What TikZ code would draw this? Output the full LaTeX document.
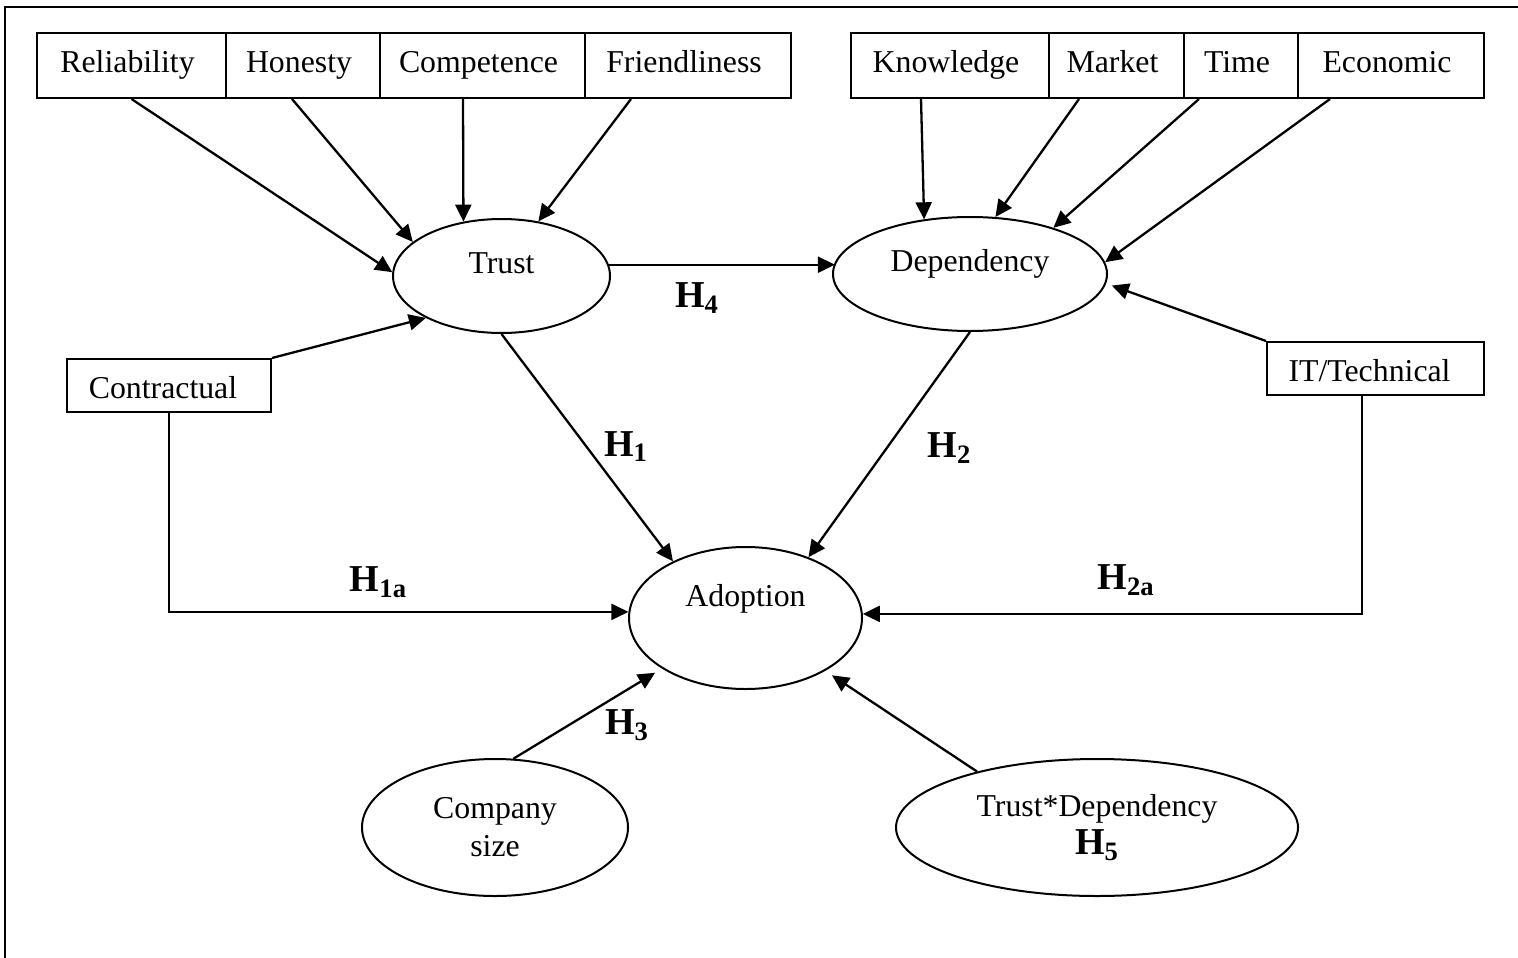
\documentclass[tikz,border=0pt]{standalone}
\usepackage{fontspec}
\setmainfont{Liberation Serif}
\usetikzlibrary{arrows.meta,calc,shapes.geometric}
\begin{document}
\begin{tikzpicture}[x=0.5pt,y=-0.5pt,
  line width=1pt,
  txtfont/.style={font=\fontsize{15.9}{19}\selectfont},
  box/.style={draw, rectangle, inner sep=0pt, minimum height=32.5pt,
    text height=11pt, text depth=3.5pt, txtfont, execute at end node={\hspace*{4pt}}},
  sbox/.style={draw, rectangle, inner sep=0pt, minimum height=26.5pt,
    text height=13.5pt, text depth=0.5pt, txtfont, execute at end node={\hspace*{6pt}}},
  ell/.style={draw, ellipse, inner sep=0pt, align=center, txtfont},
  arr/.style={-{Triangle[length=8.5pt,width=8pt]}, line width=1.15pt},
  hyp/.style={inner sep=0pt, font=\fontsize{19}{22}\selectfont\bfseries}
]
\useasboundingbox (0,0) rectangle (1518,957);
% outer frame (cut off at right and bottom)
\draw (5,7) rectangle (1535,980);

% top boxes
\node[box, minimum width=94.5pt]  (rel) at (131.5,65.5) {Reliability};
\node[box, minimum width=77pt]    (hon) at (303,65.5)   {Honesty};
\node[box, minimum width=102.5pt] (cmp) at (482.5,65.5) {Competence};
\node[box, minimum width=103pt]   (fri) at (688,65.5)   {Friendliness};
\node[box, minimum width=99pt]    (kno) at (950,65.5)   {Knowledge};
\node[box, minimum width=67.5pt]  (mar) at (1116.5,65.5){Market};
\node[box, minimum width=57pt]    (tim) at (1241,65.5)  {Time};
\node[box, minimum width=93pt]    (eco) at (1391,65.5)  {Economic};

% side boxes
\node[sbox, minimum width=102pt]   (con) at (169,385.5)   {Contractual};
\node[sbox, minimum width=108.5pt] (it)  at (1375.5,368.5){IT/Technical};

% ellipses
\node[ell, minimum width=108.5pt, minimum height=57pt, text height=11pt, text depth=13.1pt]
  (trust) at (501.5,276) {Trust};
\node[ell, minimum width=137pt, minimum height=57pt, text height=11pt, text depth=13.1pt]
  (dep) at (970,274) {Dependency};
\node[ell, minimum width=116.5pt, minimum height=71pt, text height=11pt, text depth=23pt]
  (adop) at (745.5,618) {Adoption};
\node[ell, minimum width=133pt, minimum height=68.5pt]
  (csz) at (495,827.5) {Company\\size};
\node[ell, minimum width=201pt, minimum height=68.5pt]
  (td) at (1097,827.5) {Trust*Dependency\\{\fontsize{19}{19}\selectfont\bfseries H\textsubscript{5}}};

% arrows into Trust
\draw[arr] (rel.south) -- (trust.178.4);
\draw[arr] ($(hon.south)+(-11,0)$) -- (trust.159.5);
\draw[arr] ($(cmp.south)+(-19.5,0)$) -- (trust.125.8);
\draw[arr] ($(fri.south)+(-57,0)$) -- (trust.56.6);
\draw[arr] (con.north east) -- (trust.209.7);

% arrows into Dependency
\draw[arr] ($(kno.south)+(-29,0)$) -- (dep.130.6);
\draw[arr] ($(mar.south)+(-37.5,0)$) -- (dep.66.8);
\draw[arr] ($(tim.south)+(-42,0)$) -- (dep.29.1);
\draw[arr] ($(eco.south)+(-61,0)$) -- (dep.5.1);
\draw[arr, shorten >=3pt] (it.north west) -- (dep.-4.6);

% Trust -> Dependency
\draw[arr] (trust.6.45) -- (trust.6.45 -| dep.175.8);

% into Adoption
\draw[arr] (trust.south) -- (adop.142.5);
\draw[arr] (dep.south) -- (adop.44.5);
\draw[arr] (con.south) |- (adop.177.5);
\draw[arr] ($(it.south)+(-13.5,0)$) |- (adop.2.5);
\draw[arr, shorten >=4pt] (csz.75) -- (adop);
\draw[arr, shorten >=4pt] (td.155.9) -- (adop);

% hypothesis labels
\node[hyp] (h4)  at (697,298)    {H\textsubscript{4}};
\node[hyp] (h1)  at (626,446.5)  {H\textsubscript{1}};
\node[hyp] (h2)  at (949.5,448)  {H\textsubscript{2}};
\node[hyp] (h1a) at (378.5,582)  {H\textsubscript{1a}};
\node[hyp] (h2a) at (1126,580)   {H\textsubscript{2a}};
\node[hyp] (h3)  at (627,725)    {H\textsubscript{3}};
\end{tikzpicture}
\end{document}
